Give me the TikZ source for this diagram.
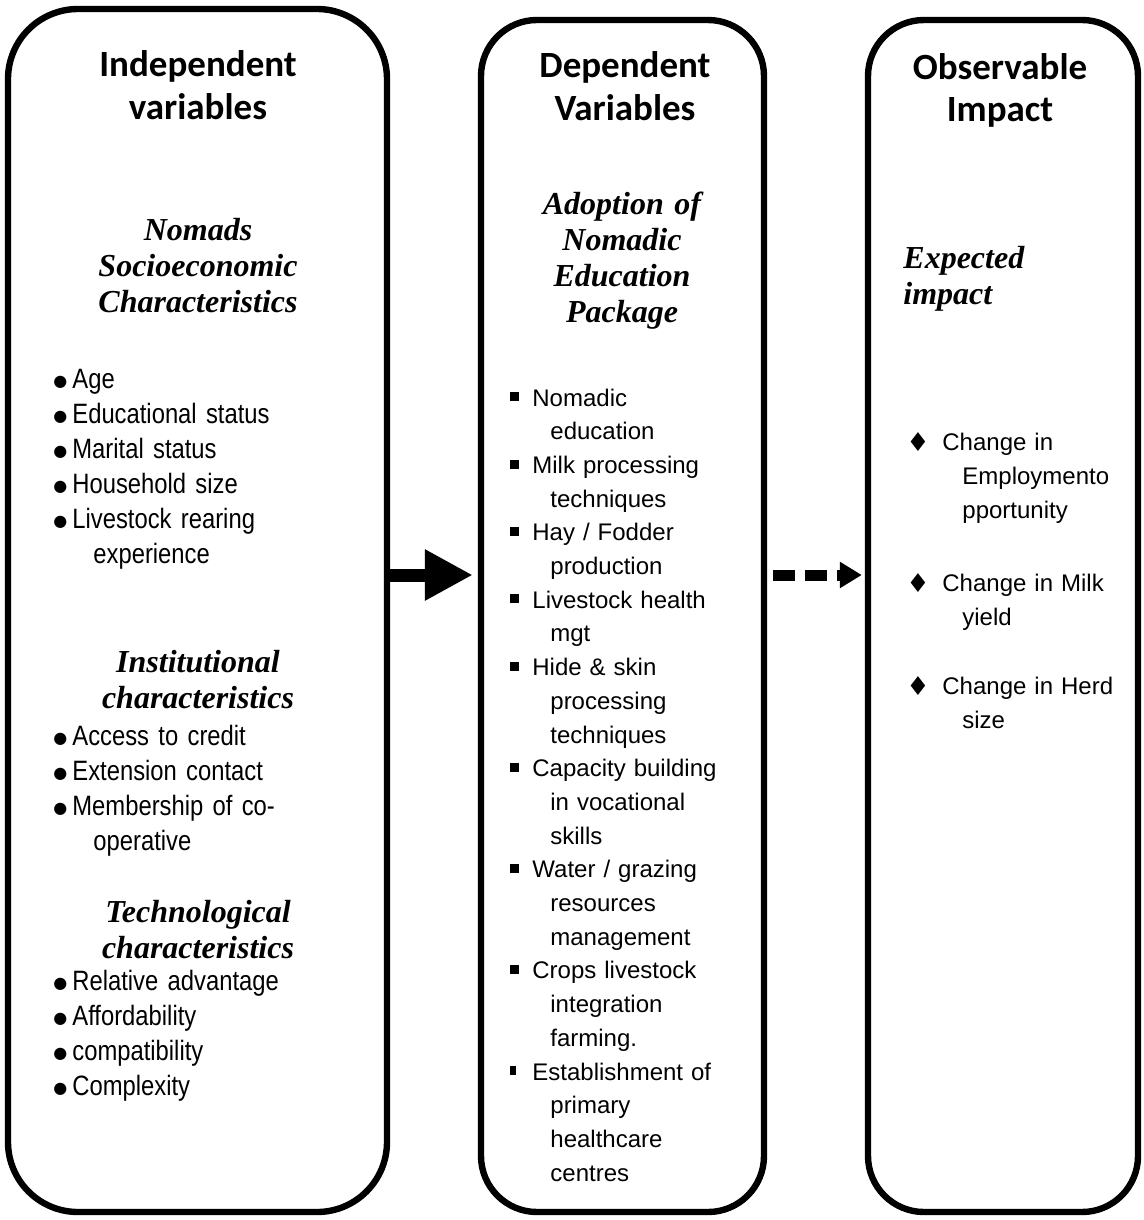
\documentclass[tikz,border=0pt]{standalone}
\usepackage{fontspec}
\usetikzlibrary{arrows.meta}
\newfontfamily\headfont{Carlito}
\newfontfamily\subfont{Liberation Serif}
\newfontfamily\narrowfont{Liberation Sans}[FakeStretch=0.85]
\newfontfamily\listfont{Liberation Sans}
\newfontfamily\symfont{DejaVu Sans}

% bullet marks and continuation indent
\newcommand{\bulDot}{\makebox[9.5pt][l]{\raisebox{0.6pt}{\symfont\fontsize{8}{8}\selectfont ●}}}
\newcommand{\bulSq}{\makebox[11pt][l]{\rule[2.4pt]{4.5pt}{4.5pt}}}
\newcommand{\bulSm}{\makebox[11pt][l]{\rule[2.4pt]{3pt}{4.5pt}}}
\newcommand{\bulDia}{\makebox[17pt][l]{\hspace*{-1pt}\raisebox{-0.8pt}{\symfont\fontsize{13}{13}\selectfont ♦}}}
\newcommand{\contln}[1]{\hspace*{#1}}

\begin{document}
\begin{tikzpicture}[x=0.5pt,y=-0.5pt,
    panel/.style={draw,line width=3.2pt,rounded corners=28pt,inner sep=0pt},
    head/.style={anchor=base,text width=150pt,align=center,inner sep=0pt,
      font=\headfont\bfseries\fontsize{18.5}{21}\selectfont},
    sub/.style={anchor=base,text width=150pt,align=center,inner sep=0pt,
      font=\subfont\bfseries\itshape\fontsize{16}{18}\selectfont},
    lst/.style={anchor=base west,text width=130pt,align=left,inner sep=0pt}]
    % bbox in pixels of the 1144x1220 frame
    \useasboundingbox (0,0) rectangle (1144,1220);

    % three panels
    \node[panel,rounded corners=35pt,minimum width=189.5pt,minimum height=601.5pt] (indep) at (197.5,610.5) {};
    \node[panel,minimum width=141.5pt,minimum height=596pt] (dep) at (622.5,616) {};
    \node[panel,minimum width=135pt,minimum height=596pt] (obs) at (1003,616) {};

    % panel titles
    \node[head] (indeptitle) at (198,77) {Independent\\variables};
    \node[head] (deptitle) at (625,78) {Dependent\\Variables};
    \node[head] (obstitle) at (1000,80) {Observable\\Impact};

    % Independent variables
    \node[sub] (socio) at (198,240) {Nomads\\Socioeconomic\\Characteristics};
    \node[lst,font=\narrowfont\fontsize{14}{17.5}\selectfont] (sociolist) at (53,388) {%
      \bulDot Age\\ \bulDot Educational status\\ \bulDot Marital status\\
      \bulDot Household size\\ \bulDot Livestock rearing\\ \contln{20pt}experience};
    \node[sub] (inst) at (198,672) {Institutional\\characteristics};
    \node[lst,font=\narrowfont\fontsize{14}{17.5}\selectfont] (instlist) at (53,745) {%
      \bulDot Access to credit\\ \bulDot Extension contact\\
      \bulDot Membership of co-\\ \contln{20pt}operative};
    \node[sub] (tech) at (198,922) {Technological\\characteristics};
    \node[lst,font=\narrowfont\fontsize{14}{17.5}\selectfont] (techlist) at (53,990) {%
      \bulDot Relative advantage\\ \bulDot Affordability\\
      \bulDot compatibility\\ \bulDot Complexity};

    % Dependent variables
    \node[sub] (pkg) at (622,214) {Adoption of\\Nomadic\\Education\\Package};
    \node[lst,font=\listfont\fontsize{12}{16.85}\selectfont] (pkglist) at (510,406) {%
      \bulSq Nomadic\\ \contln{20pt}education\\
      \bulSq Milk processing\\ \contln{20pt}techniques\\
      \bulSq Hay / Fodder\\ \contln{20pt}production\\
      \bulSq Livestock health\\ \contln{20pt}mgt\\
      \bulSq Hide \& skin\\ \contln{20pt}processing\\ \contln{20pt}techniques\\
      \bulSq Capacity building\\ \contln{20pt}in vocational\\ \contln{20pt}skills\\
      \bulSq Water / grazing\\ \contln{20pt}resources\\ \contln{20pt}management\\
      \bulSq Crops livestock\\ \contln{20pt}integration\\ \contln{20pt}farming.\\
      \bulSm Establishment of\\ \contln{20pt}primary\\ \contln{20pt}healthcare\\ \contln{20pt}centres};

    % Observable impact
    \node[sub,anchor=base west,align=left] (expect) at (903,268) {Expected\\impact};
    \node[lst,text width=110pt,font=\listfont\fontsize{12}{17}\selectfont] (impactlist) at (908,450) {%
      \bulDia Change in\\ \contln{27pt}Employmento\\ \contln{27pt}pportunity\\[19.5pt]
      \bulDia Change in Milk\\ \contln{27pt}yield\\[17.5pt]
      \bulDia Change in Herd\\ \contln{27pt}size};

    % connectors
    \coordinate (lvl) at (0,575);
    \draw[line width=6.5pt,-{Triangle[length=24pt,width=24pt]},shorten >=2.5pt] (indep.east |- lvl) -- (dep.west |- lvl);
    \draw[line width=5.5pt,dash pattern=on 11pt off 5pt,-{Triangle[length=11pt,width=12.5pt]},shorten <=3pt,shorten >=1.5pt] (dep.east |- lvl) -- (obs.west |- lvl);
  \end{tikzpicture}
\end{document}
